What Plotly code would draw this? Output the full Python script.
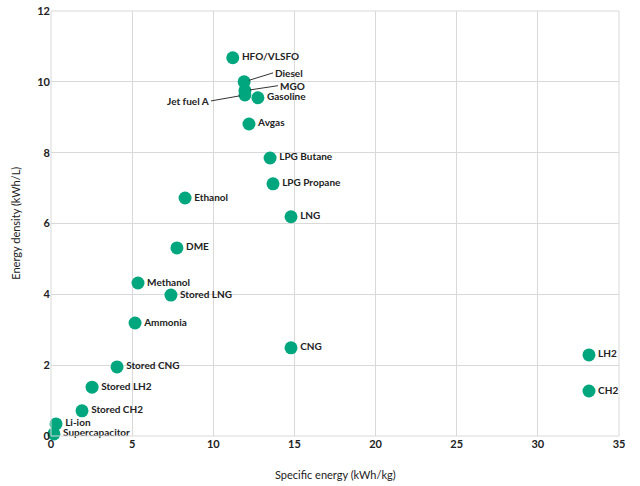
import plotly.graph_objects as go

names = ["HFO/VLSFO", "Gasoline", "Avgas", "LPG Butane", "LPG Propane", "Ethanol", "LNG",
         "DME", "Methanol", "Stored LNG", "Ammonia", "CNG", "LH2", "CH2", "Stored CNG",
         "Stored LH2", "Stored CH2", "Li-ion", "Supercapacitor"]
spec = [11.2, 12.75, 12.2, 13.5, 13.68, 8.26, 14.79, 7.76, 5.36, 7.39, 5.18, 14.79, 33.15, 33.15,
        4.07, 2.53, 1.91, 0.31, 0.18]
dens = [10.68, 9.55, 8.81, 7.85, 7.12, 6.72, 6.19, 5.31, 4.32, 3.98, 3.19, 2.49, 2.29, 1.27,
        1.95, 1.38, 0.71, 0.34, 0.06]

# points labelled with leader lines
lead_names = ["Diesel", "MGO", "Jet fuel A"]
lead_spec = [11.9, 11.95, 11.95]
lead_dens = [10.0, 9.75, 9.63]
lead_ax = [29, 33, -34]
lead_ay = [-9, -5, 6]
lead_anchor = ["left", "left", "right"]

COLOR = "#00A67E"
FONT = "Lato"

fig = go.Figure()
fig.add_trace(go.Scatter(
    x=lead_spec, y=lead_dens, mode="markers",
    marker=dict(size=13, color=COLOR), hoverinfo="skip", showlegend=False))
fig.add_trace(go.Scatter(
    x=spec, y=dens, mode="markers+text", text=names, textposition="middle right",
    textfont=dict(family=FONT, size=10, color="#222222", weight="bold"),
    marker=dict(size=13, color=COLOR), showlegend=False, cliponaxis=False))

for n, x, y, ax, ay, anc in zip(lead_names, lead_spec, lead_dens, lead_ax, lead_ay, lead_anchor):
    fig.add_annotation(x=x, y=y, text="<b>%s</b>" % n, showarrow=True, arrowhead=0,
                       arrowwidth=1, arrowcolor="#333333", ax=ax, ay=ay,
                       xanchor=anc, yanchor="middle", standoff=5,
                       font=dict(family=FONT, size=10, color="#222222"))

fig.update_layout(
    width=640, height=486, margin=dict(l=51, r=21, t=11, b=50, autoexpand=False),
    plot_bgcolor="white", paper_bgcolor="white",
    font=dict(family=FONT, size=11, color="#222222"),
)
fig.update_xaxes(range=[0, 35], dtick=5, showgrid=True, gridcolor="#d9d9d9", gridwidth=1,
                 zeroline=False, showline=False, ticks="", automargin=False,
                 ticklabeloverflow="allow",
                 tickfont=dict(family=FONT, size=11, color="#222222", weight="bold"))
fig.update_yaxes(range=[0, 12], dtick=2, showgrid=True, gridcolor="#d9d9d9", gridwidth=1,
                 zeroline=False, showline=False, ticks="", automargin=False,
                 ticklabeloverflow="allow",
                 tickfont=dict(family=FONT, size=11, color="#222222", weight="bold"))
fig.add_annotation(text="Specific energy (kWh/kg)", xref="paper", yref="paper",
                   x=0.5, y=-0.09, xanchor="center", yanchor="middle", showarrow=False,
                   font=dict(family=FONT, size=11, color="#222222"))
fig.add_annotation(text="Energy density (kWh/L)", xref="paper", yref="paper",
                   x=-0.063, y=0.5, xanchor="center", yanchor="middle", showarrow=False,
                   textangle=-90, font=dict(family=FONT, size=11, color="#222222"))
for x0, x1, y0, y1 in [(0, 1, 0, 0), (0, 0, 0, 1), (1, 1, 0, 1), (0, 1, 1, 1)]:
    fig.add_shape(type="line", xref="paper", yref="paper", x0=x0, x1=x1, y0=y0, y1=y1,
                  line=dict(color="#d9d9d9", width=1))

# remove the browser's default 8px body margin so the figure sits at the page corner
fig.write_html("out.html", config={"displayModeBar": False},
               post_script="document.body.style.margin='0';")
